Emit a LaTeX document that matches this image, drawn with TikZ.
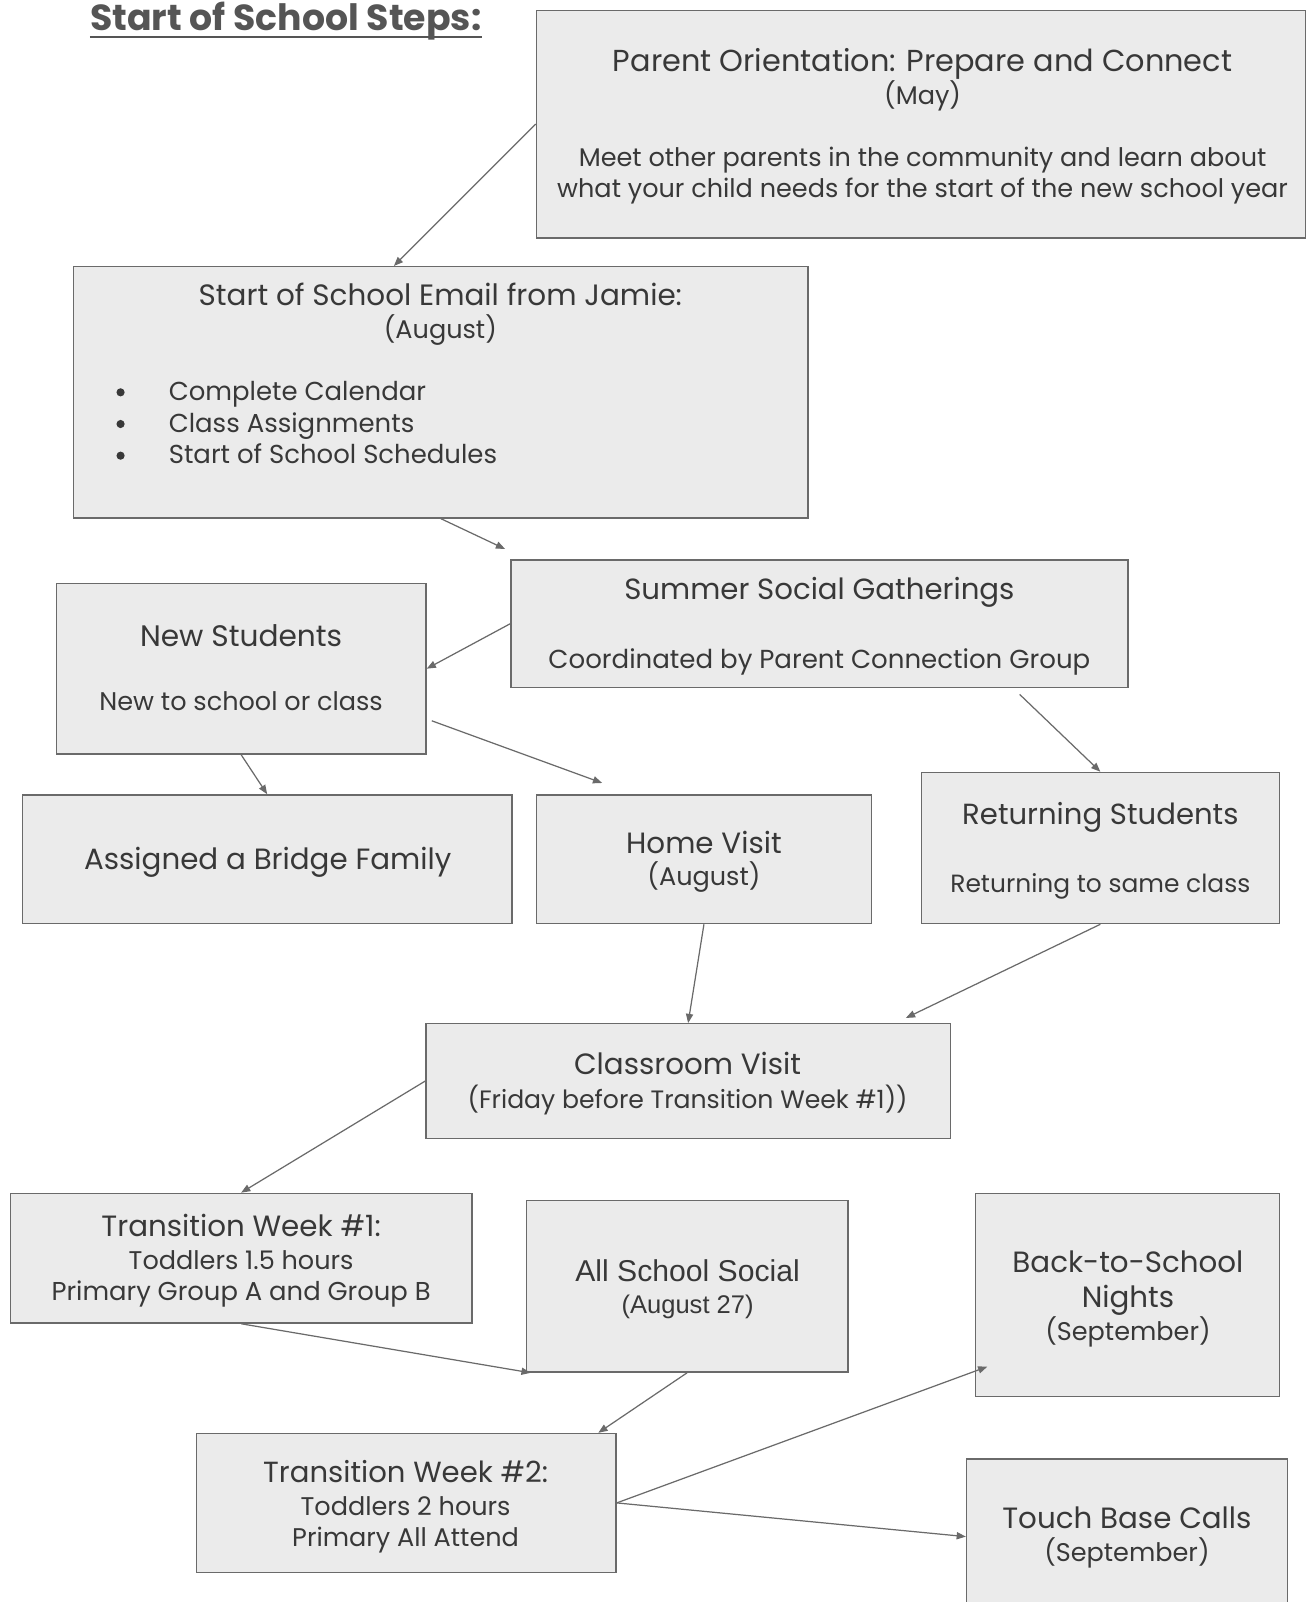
\documentclass[tikz,border=0pt]{standalone}
\usepackage{fontspec}
\setmainfont{Poppins}
\newfontfamily\arialf{Liberation Sans}
\usetikzlibrary{arrows.meta,calc}
\definecolor{boxfill}{HTML}{EBEBEB}
\definecolor{boxline}{HTML}{6A6A6A}
\definecolor{txt}{HTML}{383838}
\definecolor{ttl}{HTML}{555555}
\newcommand\mkbox[5]{\node[box, minimum width={(#4-#2)*1pt}, minimum height={(#5-#3)*1pt}] (#1) at ({(#2+#4)/2},{(#3+#5)/2}) {};}
\newcommand\tline[5]{\node[tx, font=\fontsize{#4}{#4}\selectfont] (#1) at (#2,#3) {#5};}
\begin{document}
\begin{tikzpicture}[x=1pt,y=-1pt,
  box/.style={draw=boxline, fill=boxfill, line width=1.3pt, inner sep=0pt, rectangle},
  tx/.style={anchor=base, inner sep=0pt, text=txt},
  txl/.style={anchor=base west, inner sep=0pt, text=txt},
  dot/.style={circle, fill=txt, inner sep=0pt, minimum size=8pt},
  conn/.style={draw=boxline, line width=1.2pt, -{Triangle[length=9pt,width=7pt]}}]
\useasboundingbox[fill=white] (0,0) rectangle (1279,1568);
\begin{scope}
\clip (0,0) rectangle (1279,1568);
% boxes
\mkbox{po}{525}{10}{1278}{233}
\mkbox{em}{72}{261}{791}{507}
\mkbox{ss}{500}{548}{1104}{673}
\mkbox{ns}{55}{571}{417}{738}
\mkbox{bf}{22}{778}{501}{904}
\mkbox{hv}{525}{778}{853}{904}
\mkbox{rs}{902}{756}{1252}{904}
\mkbox{cv}{417}{1002}{930}{1114}
\mkbox{twa}{10}{1168}{462}{1295}
\mkbox{as}{515}{1175}{830}{1343}
\mkbox{bs}{955}{1168}{1252}{1367}
\mkbox{twb}{192}{1403}{603}{1539}
\mkbox{tb}{946}{1428}{1260}{1580}
\end{scope}
% title
\node[anchor=base west, inner sep=0pt, text=ttl, font=\fontsize{35.5}{36}\selectfont\bfseries] (title) at (88,30) {Start of School Steps:};
\draw[ttl, line width=2pt] (title.base west) ++(0,6) -- ($(title.base east)+(0,6)$);
% texts
\tline{po1}{903}{70}{29.7}{Parent Orientation: Prepare and Connect}
\tline{po2}{903}{102}{25}{(May)}
\tline{po3}{903}{163}{25}{Meet other parents in the community and learn about}
\tline{po4}{903}{193}{25}{what your child needs for the start of the new school year}
\tline{em1}{431}{299}{28.8}{Start of School Email from Jamie:}
\tline{em2}{431}{331}{25}{(August)}
\node[dot] (b1) at (118,384) {};
\node[dot] (b2) at (118,415) {};
\node[dot] (b3) at (118,446) {};
\node[txl, font=\fontsize{25.4}{25}\selectfont] (em3) at (165,392) {Complete Calendar};
\node[txl, font=\fontsize{25.4}{25}\selectfont] (em4) at (165,423) {Class Assignments};
\node[txl, font=\fontsize{25.4}{25}\selectfont] (em5) at (165,454) {Start of School Schedules};
\tline{ss1}{802}{587}{28.6}{Summer Social Gatherings}
\tline{ss2}{802}{654}{25.5}{Coordinated by Parent Connection Group}
\tline{ns1}{236}{633}{29}{New Students}
\tline{ns2}{236}{695}{25}{New to school or class}
\tline{bf1}{262}{851}{28.7}{Assigned a Bridge Family}
\tline{hv1}{689}{835}{28.7}{Home Visit}
\tline{hv2}{689}{867}{25}{(August)}
\tline{rs1}{1077}{807}{28.5}{Returning Students}
\tline{rs2}{1077}{874}{24.4}{Returning to same class}
\tline{cv1}{673}{1052}{28.7}{Classroom Visit}
\tline{cv2}{673}{1085}{24.6}{(Friday before Transition Week \#1))}
\tline{ta1}{236}{1210}{28.7}{Transition Week \#1:}
\tline{ta2}{236}{1243}{25}{Toddlers 1.5 hours}
\tline{ta3}{236}{1273}{25.3}{Primary Group A and Group B}
\node[tx, font=\arialf\fontsize{29.5}{29}\selectfont] (as1) at (673,1254) {All School Social};
\node[tx, font=\arialf\fontsize{25}{25}\selectfont] (as2) at (673,1286) {(August 27)};
\tline{bs1}{1104}{1245}{28.7}{Back-to-School}
\tline{bs2}{1104}{1280}{28.7}{Nights}
\tline{bs3}{1104}{1312}{25}{(September)}
\tline{tw1}{397}{1451}{28.5}{Transition Week \#2:}
\tline{tw2}{397}{1483}{25}{Toddlers 2 hours}
\tline{tw3}{397}{1514}{25}{Primary All Attend}
\tline{tb1}{1103}{1496}{28.7}{Touch Base Calls}
\tline{tb2}{1103}{1528}{25}{(September)}
% connectors
\draw[conn] (po.west) -- ([xshift=-46pt]em.north);
\draw[conn] (em.south) -- ([xshift=-5pt,yshift=10pt]ss.north west);
\draw[conn] (ss.west) -- (ns.east);
\draw[conn] (ns.south) -- (bf.north);
\draw[conn] ([xshift=5pt,yshift=-51pt]ns.east) -- ([xshift=65pt,yshift=11pt]hv.north west);
\draw[conn] ([xshift=196pt,yshift=-6pt]ss.south) -- (rs.north);
\draw[conn] (hv.south) -- (cv.north);
\draw[conn] (rs.south) -- ([xshift=-44pt,yshift=5pt]cv.north east);
\draw[conn] (cv.west) -- (twa.north);
\draw[conn] (twa.south) -- ([xshift=5pt]as.south west);
\draw[conn] (as.south) -- ([xshift=-18pt]twb.north east);
\draw[conn] (twb.east) -- ([xshift=12pt,yshift=30pt]bs.south west);
\draw[conn] (twb.east) -- (tb.west);
\end{tikzpicture}
\end{document}
